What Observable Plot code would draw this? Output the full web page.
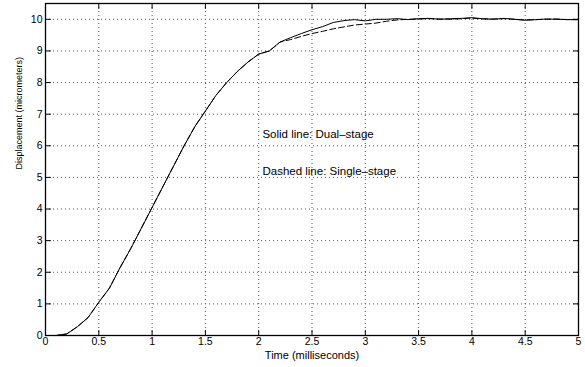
<!DOCTYPE html>
<html><head><meta charset="utf-8">
<script src="https://cdn.jsdelivr.net/npm/d3@7"></script>
<script src="https://cdn.jsdelivr.net/npm/@observablehq/plot@0.6"></script>
<style>body{margin:0;background:#fff}</style>
</head><body><div id="chart"></div><script>
const time = [0,0.1,0.2,0.3,0.4,0.5,0.6,0.7,0.8,0.9,1.0,1.1,1.2,1.3,1.4,1.5,1.6,1.7,1.8,1.9,2.0,2.1,2.2,2.3,2.4,2.5,2.6,2.7,2.8,2.9,3.0,3.1,3.2,3.3,3.4,3.5,3.6,3.7,3.8,3.9,4.0,4.1,4.2,4.3,4.4,4.5,4.6,4.7,4.8,4.9,5.0];
const dualStage = [0,0,0.05,0.28,0.57,1.05,1.5,2.15,2.75,3.4,4.05,4.7,5.35,6.0,6.6,7.1,7.6,8.0,8.35,8.65,8.9,9.0,9.28,9.42,9.55,9.67,9.77,9.9,9.96,9.99,9.95,10.0,10.0,10.02,9.99,10.02,10.03,10.0,10.02,10.03,10.05,10.02,10.0,10.03,10.0,9.97,9.99,10.01,10.0,9.99,9.99];
const singleStage = [0,0,0.05,0.28,0.57,1.05,1.5,2.15,2.75,3.4,4.05,4.7,5.35,6.0,6.6,7.1,7.6,8.0,8.35,8.65,8.9,9.0,9.28,9.36,9.46,9.55,9.62,9.7,9.76,9.82,9.85,9.88,9.94,9.98,10.0,10.01,10.02,10.01,10.0,10.02,10.04,10.01,10.01,10.02,10.0,9.98,9.99,10.0,10.01,9.99,9.99];
const xTicks = [0,0.5,1,1.5,2,2.5,3,3.5,4,4.5,5];
const yTicks = [0,1,2,3,4,5,6,7,8,9,10];
const xLabel = "Time (milliseconds)";
const yLabel = "Displacement (micrometers)";
const notes = ["Solid line: Dual\u2013stage", "Dashed line: Single\u2013stage"];

const rows = time.map((t, i) => ({t, dual: dualStage[i], single: singleStage[i]}));
const tickShape = {draw(context, l) { context.moveTo(0, 0); context.lineTo(0, -l); }};
const tk = {length: 5, anchor: "start", shape: tickShape, stroke: "#000", strokeWidth: 1};
const grid = {stroke: "#555", strokeWidth: 1, strokeDasharray: "1,3"};

const chart = Plot.plot({
  width: 585, height: 367,
  marginLeft: 45, marginRight: 7, marginTop: 3, marginBottom: 32,
  style: {fontFamily: "'Liberation Sans', Arial, sans-serif", fontSize: "10.5px", color: "#000", background: "#fff"},
  x: {domain: [0, 5], ticks: xTicks, tickSize: 0, tickPadding: 2, tickFormat: d => String(d), label: null},
  y: {domain: [0, 10.5], ticks: yTicks, tickSize: 0, tickPadding: 3, tickFormat: d => String(d), label: null},
  marks: [
    Plot.ruleX(xTicks.slice(1, -1), {x: d => d, ...grid}),
    Plot.ruleY(yTicks.slice(1), {y: d => d, ...grid}),
    Plot.vector(xTicks, {x: d => d, y: () => 0, rotate: 0, ...tk}),
    Plot.vector(xTicks, {x: d => d, y: () => 10.5, rotate: 180, ...tk}),
    Plot.vector(yTicks, {x: () => 0, y: d => d, rotate: 90, ...tk}),
    Plot.vector(yTicks, {x: () => 5, y: d => d, rotate: -90, ...tk}),
    Plot.line(rows, {x: "t", y: "single", stroke: "#000", strokeWidth: 1, strokeDasharray: "6,3"}),
    Plot.line(rows, {x: "t", y: "dual", stroke: "#000", strokeWidth: 1}),
    Plot.frame({stroke: "#000", strokeWidth: 1.3}),
    Plot.text([notes[0]], {x: () => 2.035, y: () => 6.36, text: d => d, textAnchor: "start", fontSize: 11.5}),
    Plot.text([notes[1]], {x: () => 2.035, y: () => 5.2, text: d => d, textAnchor: "start", fontSize: 11.5}),
    Plot.text([xLabel], {frameAnchor: "bottom", dy: 23, text: d => d, fontSize: 11}),
    Plot.text([yLabel], {frameAnchor: "left", rotate: -90, dx: -26, text: d => d, fontSize: 9})
  ]
});
document.getElementById("chart").appendChild(chart);
</script></body></html>
